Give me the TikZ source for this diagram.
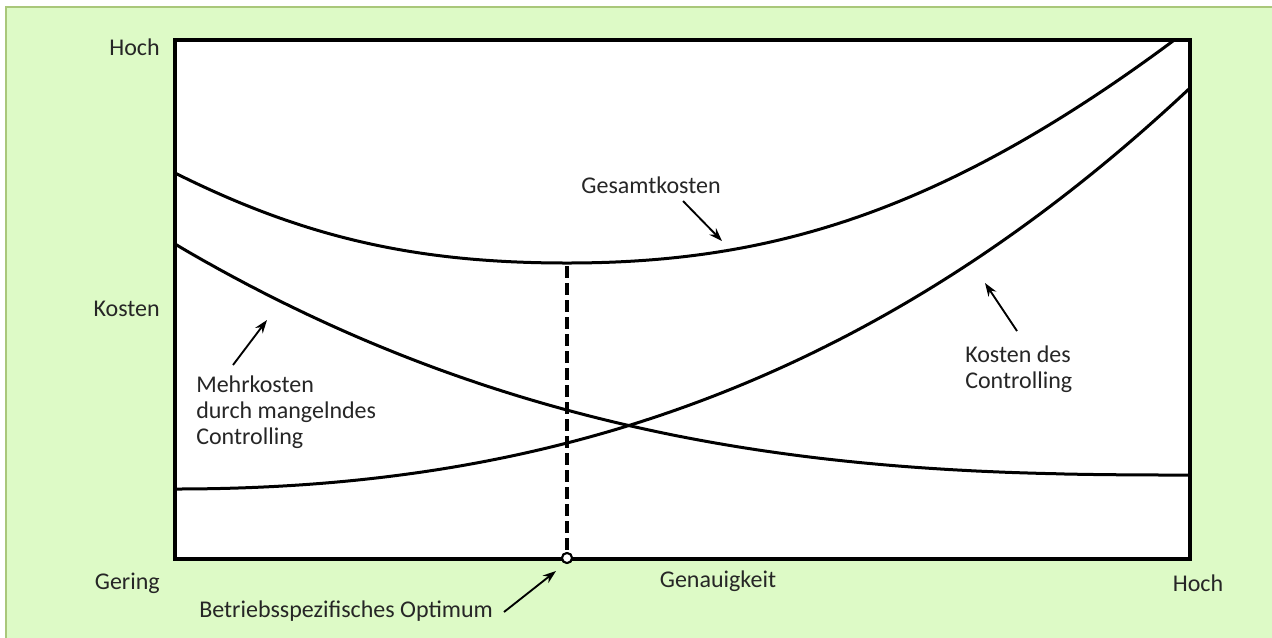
\documentclass[tikz,border=0pt]{standalone}
\usepackage{fontspec}
\setmainfont{Carlito}
\usetikzlibrary{arrows.meta}
\definecolor{bggreen}{HTML}{DDFAC6}
\definecolor{framegreen}{HTML}{A9C77A}
\definecolor{txt}{HTML}{262626}
\begin{document}
\begin{tikzpicture}[x=0.75pt,y=-0.75pt,
  lbl/.style={font=\fontsize{18}{19.5}\selectfont, text=txt, inner sep=0pt},
  curve/.style={line width=2.25pt},
  ptr/.style={line width=1.4pt, -{Stealth[length=10pt,width=7pt]}}]
\useasboundingbox (0,0) rectangle (1272,637);
\begin{scope}
  \clip (0,0) rectangle (1272,637);
  \fill[white] (0,0) rectangle (1272,637);
  \filldraw[fill=bggreen, draw=framegreen, line width=1.5pt] (6,7) rectangle (1290,660);
\end{scope}
% plot area
\coordinate (BL) at (175,559);
\coordinate (TR) at (1190,40);
\fill[white] (BL) rectangle (TR);
\begin{scope}
  \clip (BL) rectangle (TR);
  % Gesamtkosten
  \draw[curve] (175,173) .. controls (305,238) and (417,263) .. (567,263)
                         .. controls (767,263) and (940,215) .. (1177,38);
  % Mehrkosten durch mangelndes Controlling
  \draw[curve] plot[domain=175:1189, samples=140] (\x, {475-231*(1-(\x-175)/1015)^2.6});
  % Kosten des Controlling
  \draw[curve] plot[domain=175:1190, samples=140] (\x, {489-((\x-175)/1000)*((\x-175)/1000)*(242.8+144.3*((\x-175)/1000))});
\end{scope}
% optimum
\coordinate (gmin) at (567,266);
\node[circle, draw, fill=white, line width=1.5pt, minimum size=7.5pt, inner sep=0pt] (opt) at (567,558) {};
\draw[line width=3pt, dash pattern=on 9pt off 3.75pt] (gmin) -- (opt.north);
\draw[line width=3pt, line cap=rect] (BL |- TR) -- (BL) -- (BL -| TR) -- (TR) -- cycle;
\node[circle, draw, fill=white, line width=1.5pt, minimum size=7.5pt, inner sep=0pt] at (opt) {};
% axis labels
\node[lbl, anchor=east] (yhigh) at (160,47) {Hoch};
\node[lbl, anchor=east] (ylab) at (160,309) {Kosten};
\node[lbl, anchor=east] (xlow) at (160,583) {Gering};
\node[lbl] (xlab) at (718,581) {Genauigkeit};
\node[lbl] (xhigh) at (1198,583) {Hoch};
% curve labels
\node[lbl] (lges) at (651,185) {Gesamtkosten};
\node[lbl, anchor=west, align=left] (lmehr) at (196,412) {Mehrkosten\\durch mangelndes\\Controlling};
\node[lbl, anchor=west, align=left] (lctrl) at (965,369) {Kosten des\\Controlling};
\node[lbl, anchor=west] (lopt) at (199,611) {Betriebsspezifisches Optimum};
% pointers
\coordinate (pges0) at (683,201);  \coordinate (pges1) at (722,241);
\coordinate (pmehr0) at (233,365); \coordinate (pmehr1) at (267,320);
\coordinate (pctrl0) at (1017,331); \coordinate (pctrl1) at (985,283);
\coordinate (popt0) at (504,612);  \coordinate (popt1) at (556,571);
\draw[ptr] (pges0) -- (pges1);
\draw[ptr] (pmehr0) -- (pmehr1);
\draw[ptr] (pctrl0) -- (pctrl1);
\draw[ptr] (popt0) -- (popt1);
\end{tikzpicture}
\end{document}
